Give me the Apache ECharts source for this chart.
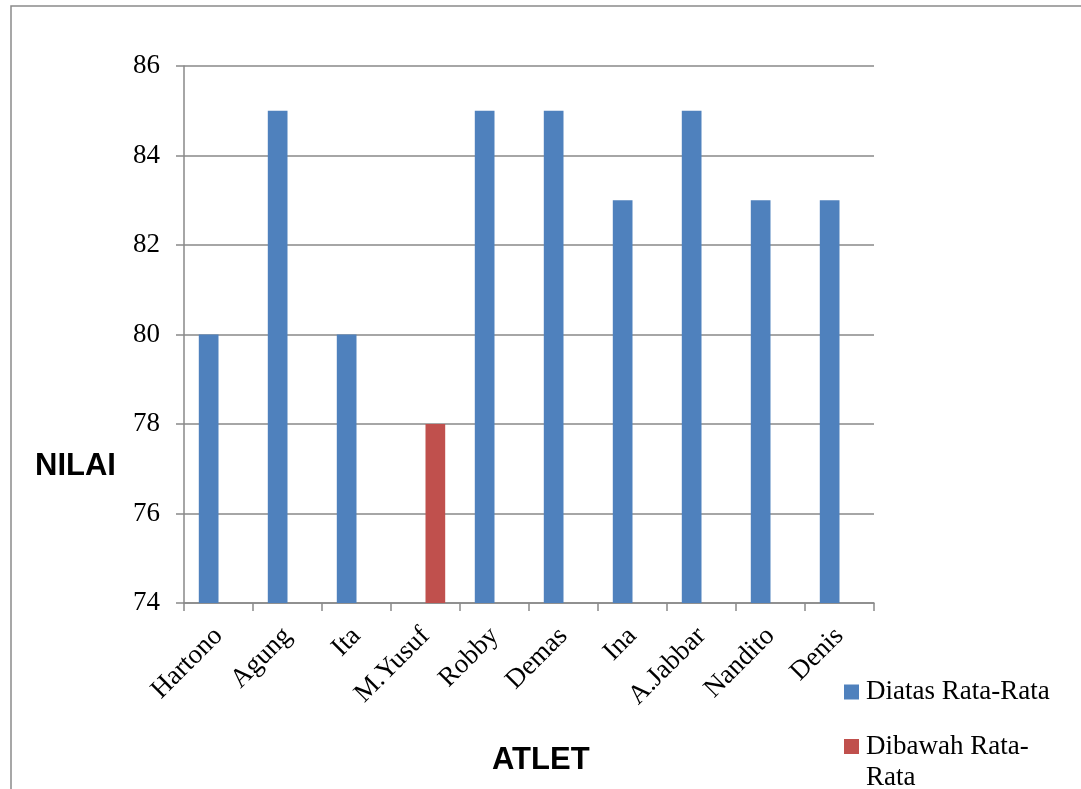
<!DOCTYPE html>
<html>
<head>
<meta charset="utf-8">
<script src="https://cdn.jsdelivr.net/npm/echarts@6/dist/echarts.min.js"></script>
<style>html,body{margin:0;padding:0;background:#fff;}#c{width:1081px;height:789px;}</style>
</head>
<body>
<div id="c"></div>
<script>
var categories = ['Hartono','Agung','Ita','M.Yusuf','Robby','Demas','Ina','A.Jabbar','Nandito','Denis'];
var diatas = [80, 85, 80, '-', 85, 85, 83, 85, 83, 83];
var dibawah = ['-', '-', '-', 78, '-', '-', '-', '-', '-', '-'];
var yTicks = {min: 74, max: 86, interval: 2};
var serif = '"Liberation Serif", "DejaVu Serif", serif';
var chart = echarts.init(document.getElementById('c'));
chart.setOption({
  animation: false,
  backgroundColor: '#fff',
  grid: {left: 184, top: 66, right: 207, bottom: 186, containLabel: false},
  graphic: [
    {type: 'rect', shape: {x: 11, y: 6, width: 1200, height: 900}, style: {fill: 'none', stroke: '#8a8a8a', lineWidth: 1.5}, z: -1},
    {type: 'text', left: 35, top: 451, style: {text: 'NILAI', font: 'bold 31px "Liberation Sans", Arial, sans-serif', fill: '#000'}},
    {type: 'text', left: 492, top: 745, style: {text: 'ATLET', font: 'bold 31px "Liberation Sans", Arial, sans-serif', fill: '#000'}}
  ],
  legend: [
    {data: ['Diatas Rata-Rata'], left: 839, top: 672, orient: 'vertical', icon: 'rect', itemWidth: 15, itemHeight: 15,
     textStyle: {fontFamily: serif, fontSize: 27, color: '#000', lineHeight: 30, padding: [0,0,0,2]}},
    {data: ['Dibawah Rata-Rata'], left: 839, top: 695, orient: 'vertical', icon: 'rect', itemWidth: 15, itemHeight: 15,
     formatter: function(){ return ' \nDibawah Rata-\nRata'; },
     textStyle: {fontFamily: serif, fontSize: 27, color: '#000', lineHeight: 31, padding: [0,0,0,2]}}
  ],
  xAxis: {
    type: 'category', data: categories,
    axisLine: {lineStyle: {color: '#898989', width: 1.5}},
    axisTick: {show: true, length: 8, lineStyle: {color: '#898989', width: 1.5}},
    axisLabel: {rotate: 45, fontFamily: serif, fontSize: 27, color: '#000', margin: 29, interval: 0}
  },
  yAxis: {
    type: 'value', min: yTicks.min, max: yTicks.max, interval: yTicks.interval,
    axisLine: {show: true, lineStyle: {color: '#898989', width: 1.5}},
    axisTick: {show: true, length: 8, lineStyle: {color: '#898989', width: 1.5}},
    splitLine: {lineStyle: {color: '#898989', width: 1.5}},
    axisLabel: {fontFamily: serif, fontSize: 27, color: '#000', margin: 24}
  },
  series: [
    {name: 'Diatas Rata-Rata', type: 'bar', data: diatas, barWidth: 19.7, barGap: '0%', itemStyle: {color: '#4F81BD'}},
    {name: 'Dibawah Rata-Rata', type: 'bar', data: dibawah, barWidth: 19.7, barGap: '0%', itemStyle: {color: '#C0504D'}}
  ]
});
</script>
</body>
</html>
